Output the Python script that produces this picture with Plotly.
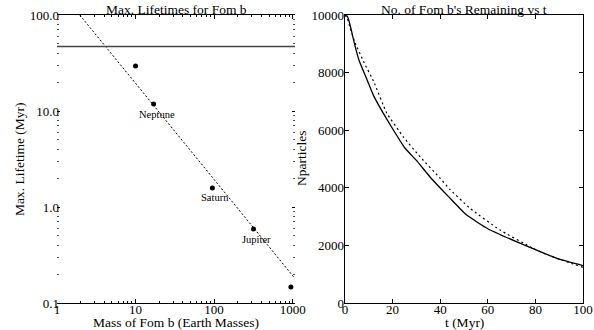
import math
import plotly.graph_objects as go

# ---------------- data ----------------
planet_mass = [10, 17, 95, 318, 950]          # Earth masses
max_lifetime = [29.5, 11.8, 1.58, 0.59, 0.147]  # Myr
planet_names = ["", "Neptune", "Saturn", "Jupiter", ""]

fit_mass = [1.95, 1070]
fit_lifetime = [100.0, 0.18]

limit_lifetime = 47.0  # horizontal reference line (Myr)

t_solid = [0, 1, 2, 4, 6, 9, 12, 16, 20, 25, 30, 36, 44, 51, 60, 72, 83, 90, 100]
n_solid = [10000, 9950, 9700, 9000, 8400, 7800, 7200, 6600, 6050, 5400, 4950, 4350,
           3650, 3060, 2580, 2130, 1750, 1520, 1300]

t_dash = [0, 1, 2, 4, 8, 12, 17.5, 24.5, 31.5, 40, 44, 52.5, 65, 79, 86, 100]
n_dash = [10000, 9880, 9600, 9080, 8350, 7700, 6600, 5770, 5080, 4330, 3950, 3290,
          2540, 1900, 1640, 1240]

lt_ticks = [0.1, 1, 10, 100]
lt_ticktext = ["0.1", "1.0", "10.0", "100.0"]
mass_ticks = [1, 10, 100, 1000]
mass_ticktext = ["1", "10", "100", "1000"]
t_ticks = [0, 20, 40, 60, 80, 100]
n_ticks = [0, 2000, 4000, 6000, 8000, 10000]
n_ticktext = ["0", "2000", "4000", "6000", "8000", "10000"]

FONT = "Liberation Serif, Times New Roman, serif"
W, H = 594, 330

def px_x(v):
    return v / W

def px_y(v):
    return 1 - v / H

fig = go.Figure()

# ---- left panel ----
fig.add_trace(go.Scatter(x=fit_mass, y=fit_lifetime, mode="lines",
                         line=dict(color="black", width=1, dash="2px,2px"),
                         xaxis="x", yaxis="y", showlegend=False))
fig.add_trace(go.Scatter(x=planet_mass, y=max_lifetime, mode="markers",
                         marker=dict(color="black", size=5),
                         xaxis="x", yaxis="y", showlegend=False))
fig.add_shape(type="line", xref="x domain", yref="y", x0=0, x1=1,
              y0=limit_lifetime, y1=limit_lifetime,
              line=dict(color="#444444", width=1.6))

for m, l, name in zip(planet_mass, max_lifetime, planet_names):
    if name:
        fig.add_annotation(x=math.log10(m), y=math.log10(l), xref="x", yref="y",
                           text=name, showarrow=False, yshift=-10, xshift=3,
                           font=dict(family=FONT, size=10.5, color="black"))

# ---- right panel ----
fig.add_trace(go.Scatter(x=t_solid, y=n_solid, mode="lines",
                         line=dict(color="black", width=1.3, shape="spline", smoothing=0.4),
                         xaxis="x2", yaxis="y2", showlegend=False))
fig.add_trace(go.Scatter(x=t_dash, y=n_dash, mode="lines",
                         line=dict(color="black", width=1.2, dash="2px,3px",
                                   shape="spline", smoothing=0.4),
                         xaxis="x2", yaxis="y2", showlegend=False))

minor_log = [2, 3, 4, 5, 6, 7, 8, 9, 20, 30, 40, 50, 60, 70, 80, 90,
             200, 300, 400, 500, 600, 700, 800, 900]
minor_log_y = [0.2, 0.3, 0.4, 0.5, 0.6, 0.7, 0.8, 0.9, 2, 3, 4, 5, 6, 7, 8, 9,
               20, 30, 40, 50, 60, 70, 80, 90]

tickfont = dict(family=FONT, size=13, color="black")
ydom = [px_y(303), px_y(15)]

common_x = dict(ticks="inside", ticklen=4, tickwidth=1, tickcolor="black",
                showline=True, linecolor="black", linewidth=1.3, mirror="allticks",
                showgrid=False, zeroline=False, tickfont=tickfont,
                ticklabelstandoff=-6, automargin=False, ticklabeloverflow="allow")

fig.update_layout(
    width=W, height=H, margin=dict(l=0, r=0, t=0, b=0, autoexpand=False),
    paper_bgcolor="white", plot_bgcolor="white",
    font=dict(family=FONT, color="black"),
    hovermode=False,
    xaxis=dict(type="log", range=[0, 3.03], domain=[px_x(57), px_x(295)],
               tickmode="array", tickvals=mass_ticks, ticktext=mass_ticktext,
               minor=dict(tickmode="array", tickvals=minor_log, ticks="inside",
                          ticklen=2, tickwidth=1, tickcolor="black", showgrid=False),
               anchor="y", **common_x),
    yaxis=dict(type="log", range=[-1, 2], domain=ydom,
               tickmode="array", tickvals=lt_ticks, ticktext=lt_ticktext,
               ticks="inside", ticklen=3, tickwidth=1, tickcolor="black",
               showline=False, mirror="allticks",
               showgrid=False, zeroline=False, tickfont=tickfont,
               ticklabelstandoff=-3, automargin=False, ticklabeloverflow="allow",
               minor=dict(tickmode="array", tickvals=minor_log_y, ticks="inside",
                          ticklen=2, tickwidth=1, tickcolor="#555555", showgrid=False),
               anchor="x"),
    xaxis2=dict(range=[0, 100], domain=[px_x(345), px_x(583)],
                tickmode="array", tickvals=t_ticks, anchor="y2", **common_x),
    yaxis2=dict(range=[0, 10000], domain=ydom,
                tickmode="array", tickvals=n_ticks, ticktext=n_ticktext,
                ticks="inside", ticklen=4, tickwidth=1, tickcolor="black",
                showline=True, linecolor="black", linewidth=1.3, mirror="allticks",
                showgrid=False, zeroline=False, tickfont=tickfont,
                ticklabelstandoff=-3, automargin=False, ticklabeloverflow="allow",
                anchor="x2"),
)

def label(text, x, y, size=13.5, angle=0):
    fig.add_annotation(x=px_x(x), y=px_y(y), xref="paper", yref="paper", text=text,
                       showarrow=False, textangle=angle, xanchor="center",
                       yanchor="middle", borderpad=0,
                       font=dict(family=FONT, size=size, color="black"))

label("Max. Lifetimes for Fom b", 176, 10)
label("No. of Fom b's Remaining vs t", 464, 10)
label("Mass of Fom b (Earth Masses)", 176, 322)
label("t (Myr)", 464, 322)
label("Max. Lifetime (Myr)", 19, 159, angle=-90)
label("Nparticles", 301, 159, angle=-90)

fig.write_html("out.html",
               config={"displayModeBar": False, "staticPlot": True},
               post_script="document.body.style.margin='0';"
                           "document.body.style.overflow='hidden';")
